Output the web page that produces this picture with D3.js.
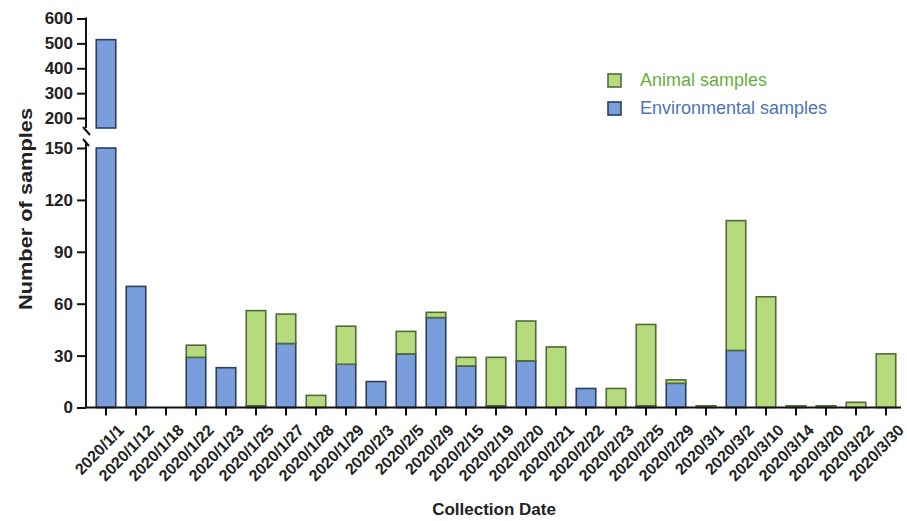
<!DOCTYPE html>
<html><head><meta charset="utf-8">
<script src="https://cdn.jsdelivr.net/npm/d3@7"></script>
<style>body{margin:0;background:#fff}svg{display:block}text{font-family:"Liberation Sans",Arial,sans-serif}</style>
</head><body><svg id="c" width="907" height="521"></svg>
<script>
const categories = ["2020/1/1","2020/1/12","2020/1/18","2020/1/22","2020/1/23","2020/1/25","2020/1/27","2020/1/28","2020/1/29","2020/2/3","2020/2/5","2020/2/9","2020/2/15","2020/2/19","2020/2/20","2020/2/21","2020/2/22","2020/2/23","2020/2/25","2020/2/29","2020/3/1","2020/3/2","2020/3/10","2020/3/14","2020/3/20","2020/3/22","2020/3/30"];
const environmental = [515,70,0,29,23,1,37,0,25,15,31,52,24,1,27,0,11,0,1,14,0,33,0,0,0,0,0];
const animal = [0,0,0,7,0,55,17,7,22,0,13,3,5,28,23,35,0,11,47,2,1,75,64,1,1,3,31];
const lowerTicks = [0,30,60,90,120,150];
const upperTicks = [200,300,400,500,600];
const seriesNames = ["Animal samples","Environmental samples"];

const svg = d3.select("#c");
const x = d3.scaleBand().domain(categories).range([91,901]).paddingInner(0.35).paddingOuter(0.175);
const yL = d3.scaleLinear().domain([0,150]).range([407.5,148]);
const yU = d3.scaleLinear().domain([160,600]).range([128,18.5]);
const AX = 86;

const envFill="#7a9edb", envStroke="#2c3d5e", aniFill="#b5db7d", aniStroke="#4f6b3a";

function drawSeg(cat,v0,v1,fill,stroke){
  if(v1<=v0) return;
  const bx=x(cat), bw=x.bandwidth();
  const lo0=Math.min(v0,150), lo1=Math.min(v1,150);
  if(lo1>lo0){
    svg.append("rect").attr("x",bx).attr("width",bw)
      .attr("y",yL(lo1)).attr("height",yL(lo0)-yL(lo1))
      .attr("fill",fill).attr("stroke",stroke).attr("stroke-width",1.6);
  }
  if(v1>160){
    const u0=Math.max(v0,160);
    svg.append("rect").attr("x",bx).attr("width",bw)
      .attr("y",yU(v1)).attr("height",yU(u0)-yU(v1))
      .attr("fill",fill).attr("stroke",stroke).attr("stroke-width",1.6);
  }
}
categories.forEach((c,i)=>{
  drawSeg(c,0,environmental[i],envFill,envStroke);
  drawSeg(c,environmental[i],environmental[i]+animal[i],aniFill,aniStroke);
});

const gL = svg.append("g").attr("transform",`translate(${AX},0)`)
  .call(d3.axisLeft(yL).tickValues(lowerTicks).tickSize(9).tickPadding(4));
const gU = svg.append("g").attr("transform",`translate(${AX},0)`)
  .call(d3.axisLeft(yU).tickValues(upperTicks).tickSize(9).tickPadding(4));
[gL,gU].forEach(g=>{
  g.select(".domain").remove();
  g.selectAll(".tick line").attr("stroke","#111").attr("stroke-width",2);
  g.selectAll(".tick text").attr("font-size",17).attr("font-weight","bold").attr("fill","#222");
});
svg.append("line").attr("x1",AX).attr("x2",AX).attr("y1",yU(600)-1).attr("y2",128).attr("stroke","#111").attr("stroke-width",2);
svg.append("line").attr("x1",AX).attr("x2",AX).attr("y1",143).attr("y2",yL(0)).attr("stroke","#111").attr("stroke-width",2);
svg.append("path").attr("d",`M${AX-3},127 L${AX+4},135`).attr("stroke","#111").attr("stroke-width",2).attr("fill","none");
svg.append("path").attr("d",`M${AX-3},139 L${AX+3},146`).attr("stroke","#111").attr("stroke-width",2).attr("fill","none");

const gX = svg.append("g").attr("transform",`translate(0,${yL(0)})`)
  .call(d3.axisBottom(x).tickSize(8).tickPadding(3).tickSizeOuter(0));
gX.select(".domain").attr("d",`M${AX-1},0H901`).attr("stroke","#111").attr("stroke-width",2);
gX.selectAll(".tick line").attr("stroke","#111").attr("stroke-width",2);
gX.selectAll(".tick text").attr("font-size",16).attr("font-weight","bold").attr("fill","#222")
  .attr("text-anchor","end").attr("dy","0.35em")
  .attr("transform","translate(7,12) rotate(-46)");

svg.append("text").attr("x",494).attr("y",515).attr("text-anchor","middle")
  .attr("font-size",17).attr("font-weight","bold").attr("fill","#222").text("Collection Date");
svg.append("text").attr("transform","translate(32,209) rotate(-90)").attr("text-anchor","middle")
  .attr("font-size",18).attr("font-weight","bold").attr("fill","#222")
  .attr("textLength",202).attr("lengthAdjust","spacingAndGlyphs").text("Number of samples");

const leg=[{n:seriesNames[0],f:aniFill,s:aniStroke,t:"#6aad3c",y:80},{n:seriesNames[1],f:envFill,s:envStroke,t:"#4a74b4",y:108}];
leg.forEach(d=>{
  svg.append("rect").attr("x",608).attr("y",d.y-6).attr("width",13).attr("height",13)
    .attr("fill",d.f).attr("stroke",d.s).attr("stroke-width",1.6);
  svg.append("text").attr("x",640).attr("y",d.y+6).attr("font-size",18).attr("fill",d.t).text(d.n);
});
</script></body></html>
